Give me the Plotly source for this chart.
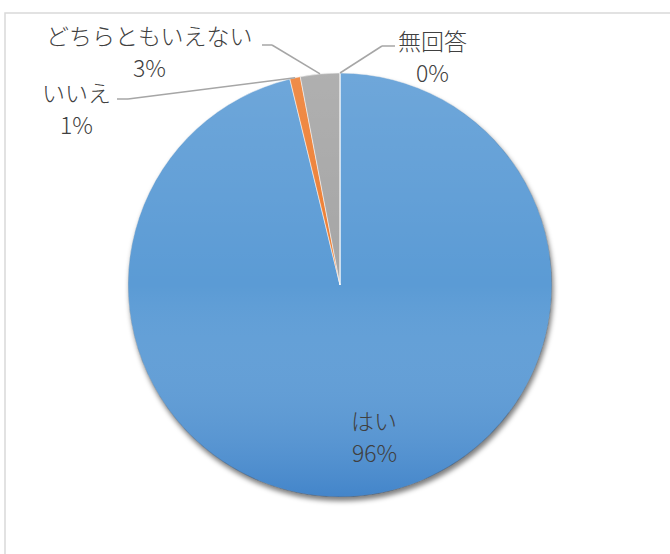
import math
import base64
import plotly.graph_objects as go

labels = ["はい", "いいえ", "どちらともいえない", "無回答"]
values = [96.2, 0.8, 3.0, 0.0]
colors = ["#5b9bd5", "#ed7d31", "#a5a5a5", "#ffc000"]

W, H = 670, 554
CX, CY, R = 340, 285, 212

# label anchor positions (pixel) and leader-line elbows
label_pos = {
    "はい": (374, 436),
    "いいえ": (76, 108),
    "どちらともいえない": (149, 51),
    "無回答": (432, 56),
}
elbows = {
    "いいえ": [(117, 99), (128, 99)],
    "どちらともいえない": [(262, 45), (272, 45)],
    "無回答": [(395, 46), (382, 46)],
}

def px(x, y):
    return x / W, 1 - y / H

def svg_uri(svg):
    return "data:image/svg+xml;base64," + base64.b64encode(svg.encode()).decode()

fig = go.Figure()
fig.add_trace(go.Pie(
    labels=labels, values=values, sort=False, direction="clockwise", rotation=0,
    marker=dict(colors=colors, line=dict(color="white", width=0.5)),
    textinfo="none", hoverinfo="label+percent", showlegend=False,
    domain=dict(x=[(CX - R) / W, (CX + R) / W], y=[(H - CY - R) / H, (H - CY + R) / H]),
))

total = sum(values)
cum = 0.0
font = dict(family="Noto Sans CJK JP, Noto Sans, sans-serif", size=23, color="#404040", weight=300)
shapes = [dict(type="rect", xref="paper", yref="paper", x0=5 / W, y0=-0.1, x1=1.1, y1=1 - 13 / H,
               line=dict(color="#d9d9d9", width=1.5), layer="below")]
annotations = []
for lab, v in zip(labels, values):
    mid = (cum + v / 2) / total
    cum += v
    ang = 2 * math.pi * mid
    ex, ey = CX + R * math.sin(ang), CY - R * math.cos(ang)
    lx, ly = label_pos[lab]
    pct = round(100 * v / total)
    for txt, dy in ((lab, -16), (f"{pct}%", 16)):
        x, y = px(lx, ly + dy)
        annotations.append(dict(xref="paper", yref="paper", x=x, y=y, showarrow=False,
                                xanchor="center", yanchor="middle",
                                text=txt, font=font, align="center"))
    if lab in elbows:
        pts = elbows[lab] + [(ex, ey)]
        for (x0, y0), (x1, y1) in zip(pts[:-1], pts[1:]):
            a0, b0 = px(x0, y0)
            a1, b1 = px(x1, y1)
            shapes.append(dict(type="line", xref="paper", yref="paper", x0=a0, y0=b0, x1=a1, y1=b1,
                               line=dict(color="#a6a6a6", width=1.5)))

# subtle vertical shading over the pie and a soft drop shadow outside it
D = 2 * R
shade_svg = (
    f'<svg xmlns="http://www.w3.org/2000/svg" width="{D}" height="{D}" viewBox="0 0 {D} {D}">'
    '<defs><linearGradient id="g" x1="0" y1="0" x2="0" y2="1">'
    '<stop offset="0" stop-color="#ffffff" stop-opacity="0.12"/>'
    '<stop offset="0.5" stop-color="#ffffff" stop-opacity="0"/>'
    '<stop offset="1" stop-color="#145ab4" stop-opacity="0.34"/>'
    '</linearGradient></defs>'
    f'<circle cx="{R}" cy="{R}" r="{R}" fill="url(#g)"/></svg>'
)
PAD = 20
SD = D + 2 * PAD
C0 = R + PAD
shadow_svg = (
    f'<svg xmlns="http://www.w3.org/2000/svg" width="{SD}" height="{SD}" viewBox="0 0 {SD} {SD}">'
    '<defs><filter id="b" x="-10%" y="-10%" width="120%" height="120%">'
    '<feGaussianBlur stdDeviation="2.5"/></filter>'
    f'<mask id="m"><rect x="0" y="0" width="{SD}" height="{SD}" fill="#fff"/>'
    f'<circle cx="{C0}" cy="{C0}" r="{R - 0.5}" fill="#000"/></mask></defs>'
    f'<g mask="url(#m)"><circle cx="{C0 + 1.5}" cy="{C0 + 4}" r="{R}" fill="#000" '
    'fill-opacity="0.5" filter="url(#b)"/></g></svg>'
)
images = [
    dict(source=svg_uri(shadow_svg), xref="paper", yref="paper",
         x=(CX - C0) / W, y=1 - (CY - C0) / H, sizex=SD / W, sizey=SD / H,
         sizing="stretch", xanchor="left", yanchor="top", layer="above"),
    dict(source=svg_uri(shade_svg), xref="paper", yref="paper",
         x=(CX - R) / W, y=1 - (CY - R) / H, sizex=D / W, sizey=D / H,
         sizing="stretch", xanchor="left", yanchor="top", layer="above"),
]

fig.update_layout(
    width=W, height=H, margin=dict(l=0, r=0, t=0, b=0),
    paper_bgcolor="white", plot_bgcolor="white",
    shapes=shapes, annotations=annotations, images=images,
)
fig.write_html("out.html", config={"displayModeBar": False},
               post_script="document.body.style.margin='0';")
